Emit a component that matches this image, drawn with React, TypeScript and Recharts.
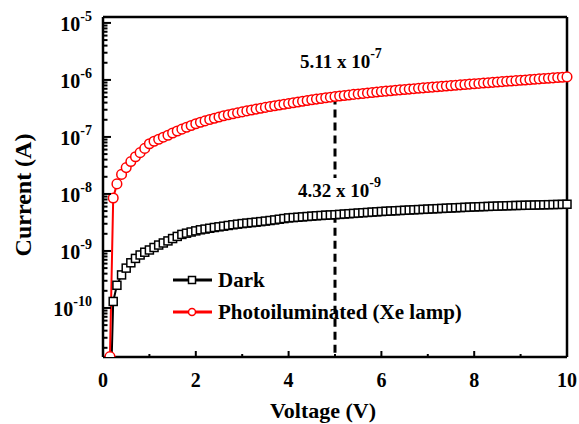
import React from "react";
import { LineChart, Line, XAxis, YAxis, ReferenceLine, Legend } from "recharts";

const voltage = [
  0.15, 0.22, 0.3, 0.4, 0.5, 0.6, 0.7, 0.8, 0.9, 1.0,
  1.1, 1.2, 1.3, 1.4, 1.5, 1.6, 1.7, 1.8, 1.9, 2.0,
  2.1, 2.2, 2.3, 2.4, 2.5, 2.6, 2.7, 2.8, 2.9, 3.0,
  3.1, 3.2, 3.3, 3.4, 3.5, 3.6, 3.7, 3.8, 3.9, 4.0,
  4.1, 4.2, 4.3, 4.4, 4.5, 4.6, 4.7, 4.8, 4.9, 5.0,
  5.1, 5.2, 5.3, 5.4, 5.5, 5.6, 5.7, 5.8, 5.9, 6.0,
  6.1, 6.2, 6.3, 6.4, 6.5, 6.6, 6.7, 6.8, 6.9, 7.0,
  7.1, 7.2, 7.3, 7.4, 7.5, 7.6, 7.7, 7.8, 7.9, 8.0,
  8.1, 8.2, 8.3, 8.4, 8.5, 8.6, 8.7, 8.8, 8.9, 9.0,
  9.1, 9.2, 9.3, 9.4, 9.5, 9.6, 9.7, 9.8, 9.9, 10.0,
];

// dark current (A)
const darkCurrent = [
  1e-12, 1.3e-10, 2.5e-10, 3.8e-10, 5.0e-10, 6.2e-10, 7.4e-10, 8.5e-10, 9.5e-10, 1.04e-9,
  1.15e-9, 1.27e-9, 1.38e-9, 1.5e-9, 1.65e-9, 1.8e-9, 1.95e-9, 2.05e-9, 2.15e-9, 2.25e-9,
  2.35e-9, 2.42e-9, 2.5e-9, 2.58e-9, 2.65e-9, 2.72e-9, 2.8e-9, 2.88e-9, 2.95e-9, 3.02e-9,
  3.08e-9, 3.14e-9, 3.2e-9, 3.27e-9, 3.34e-9, 3.42e-9, 3.5e-9, 3.6e-9, 3.7e-9, 3.8e-9,
  3.85e-9, 3.9e-9, 3.96e-9, 4.02e-9, 4.08e-9, 4.14e-9, 4.19e-9, 4.24e-9, 4.28e-9, 4.32e-9,
  4.38e-9, 4.44e-9, 4.5e-9, 4.56e-9, 4.62e-9, 4.68e-9, 4.74e-9, 4.8e-9, 4.86e-9, 4.92e-9,
  4.97e-9, 5.02e-9, 5.07e-9, 5.12e-9, 5.17e-9, 5.22e-9, 5.27e-9, 5.32e-9, 5.37e-9, 5.42e-9,
  5.47e-9, 5.52e-9, 5.57e-9, 5.62e-9, 5.67e-9, 5.72e-9, 5.77e-9, 5.82e-9, 5.87e-9, 5.92e-9,
  5.96e-9, 6.0e-9, 6.04e-9, 6.08e-9, 6.12e-9, 6.16e-9, 6.2e-9, 6.24e-9, 6.27e-9, 6.3e-9,
  6.33e-9, 6.36e-9, 6.39e-9, 6.42e-9, 6.45e-9, 6.48e-9, 6.51e-9, 6.54e-9, 6.57e-9, 6.6e-9,
];

// photo current under Xe lamp (A)
const photoCurrent = [
  1.4e-11, 8.5e-9, 1.5e-8, 2.2e-8, 2.9e-8, 3.7e-8, 4.5e-8, 5.3e-8, 6.3e-8, 7.6e-8,
  8.4e-8, 9.1e-8, 9.9e-8, 1.07e-7, 1.17e-7, 1.27e-7, 1.37e-7, 1.48e-7, 1.59e-7, 1.7e-7,
  1.81e-7, 1.91e-7, 2.02e-7, 2.13e-7, 2.24e-7, 2.35e-7, 2.45e-7, 2.55e-7, 2.65e-7, 2.75e-7,
  2.86e-7, 2.97e-7, 3.08e-7, 3.19e-7, 3.3e-7, 3.41e-7, 3.52e-7, 3.63e-7, 3.74e-7, 3.85e-7,
  3.98e-7, 4.1e-7, 4.23e-7, 4.35e-7, 4.48e-7, 4.61e-7, 4.73e-7, 4.86e-7, 4.98e-7, 5.11e-7,
  5.22e-7, 5.34e-7, 5.45e-7, 5.57e-7, 5.68e-7, 5.79e-7, 5.91e-7, 6.02e-7, 6.14e-7, 6.25e-7,
  6.36e-7, 6.47e-7, 6.58e-7, 6.69e-7, 6.8e-7, 6.91e-7, 7.02e-7, 7.13e-7, 7.24e-7, 7.35e-7,
  7.47e-7, 7.59e-7, 7.71e-7, 7.83e-7, 7.95e-7, 8.07e-7, 8.19e-7, 8.31e-7, 8.43e-7, 8.55e-7,
  8.68e-7, 8.81e-7, 8.94e-7, 9.07e-7, 9.2e-7, 9.33e-7, 9.46e-7, 9.59e-7, 9.72e-7, 9.85e-7,
  9.99e-7, 1.014e-6, 1.028e-6, 1.043e-6, 1.057e-6, 1.072e-6, 1.086e-6, 1.101e-6, 1.115e-6, 1.13e-6,
];

const xTicks = [0, 1, 2, 3, 4, 5, 6, 7, 8, 9, 10];
const yDecades = [1e-11, 1e-10, 1e-9, 1e-8, 1e-7, 1e-6];
const yMinorSteps = [1, 2, 3, 4, 5, 6, 7, 8, 9];

// marked point
const markVoltage = 5;
const markPhoto = 5.11e-7;
const markDark = 4.32e-9;
const markBreak = 1.9e-8;

const legendItems = [
  { label: "Dark", color: "#000000", shape: "square" },
  { label: "Photoiluminated (Xe lamp)", color: "#ff0000", shape: "circle" },
];

const X_MAX = 10;
const Y_MIN = 1.38e-11;
const Y_MAX = 1.27e-5;
const FONT = '"Liberation Serif", "Times New Roman", serif';
const PLOT_LEFT = 103;
const PLOT_BOTTOM = 357;

const data = voltage.map((v, i) => ({
  v,
  dark: darkCurrent[i],
  photo: photoCurrent[i],
}));

const yTicks = [...yDecades.flatMap((d) => yMinorSteps.map((m) => m * d)), 1e-5].filter(
  (t) => t >= Y_MIN && t <= Y_MAX
);

const splitExp = (val: number) => {
  const exp = Math.floor(Math.log10(val) + 1e-9);
  return { mant: (val / Math.pow(10, exp)).toFixed(2), exp };
};

const YTick = (props: any) => {
  const { y, payload } = props;
  const val = payload.value;
  const exp = Math.round(Math.log10(val));
  const major = Math.abs(val / Math.pow(10, exp) - 1) < 1e-6;
  return (
    <g>
      <line x1={PLOT_LEFT} x2={PLOT_LEFT + (major ? 8 : 4.5)} y1={y} y2={y} stroke="#000" strokeWidth={2} />
      {major && (
        <text x={PLOT_LEFT - 11} y={y + 8} textAnchor="end" fontFamily={FONT} fontWeight="bold" fontSize={20} fill="#000">
          10
          <tspan dy={-10} fontSize={14}>{`${exp}`}</tspan>
        </text>
      )}
    </g>
  );
};

const XTick = (props: any) => {
  const { x, payload } = props;
  const val = payload.value;
  const major = val % 2 === 0;
  return (
    <g>
      <line x1={x} x2={x} y1={PLOT_BOTTOM} y2={PLOT_BOTTOM - (major ? 6 : 3)} stroke="#000" strokeWidth={2} />
      {major && (
        <text x={x} y={PLOT_BOTTOM + 30} textAnchor="middle" fontFamily={FONT} fontWeight="bold" fontSize={20} fill="#000">
          {val}
        </text>
      )}
    </g>
  );
};

const SquareDot = (props: any) => {
  const { cx, cy, index } = props;
  if (cx == null || cy == null) return <g key={`sq-${index}`} />;
  return <rect key={`sq-${index}`} x={cx - 4} y={cy - 4} width={8} height={8} fill="#fff" stroke="#000" strokeWidth={1.5} />;
};

const CircleDot = (props: any) => {
  const { cx, cy, index } = props;
  if (cx == null || cy == null) return <g key={`ci-${index}`} />;
  return <circle key={`ci-${index}`} cx={cx} cy={cy} r={4.8} fill="#fff" stroke="#ff0000" strokeWidth={1.5} />;
};

const annotation = (val: number, dx: number, dy: number) => (p: any) => {
  const vb = p.viewBox || {};
  const { mant, exp } = splitExp(val);
  return (
    <text x={vb.x + dx} y={vb.y + dy} fontFamily={FONT} fontWeight="bold" fontSize={19} fill="#000">
      {`${mant} x 10`}
      <tspan dy={-10} fontSize={14}>{`${exp}`}</tspan>
    </text>
  );
};

const LegendContent = () => (
  <div style={{ fontFamily: FONT, fontWeight: "bold", fontSize: 21, color: "#000" }}>
    {legendItems.map((item) => (
      <div key={item.label} style={{ display: "flex", alignItems: "center", height: 32, whiteSpace: "nowrap" }}>
        <svg width={46} height={32}>
          <line x1={3} x2={42} y1={16} y2={16} stroke={item.color} strokeWidth={3} />
          {item.shape === "square" ? (
            <rect x={18.5} y={12.5} width={7} height={7} fill="#fff" stroke={item.color} strokeWidth={1.5} />
          ) : (
            <circle cx={22} cy={16} r={3.5} fill="#fff" stroke={item.color} strokeWidth={1.5} />
          )}
        </svg>
        <span style={{ marginLeft: 2, lineHeight: "32px" }}>{item.label}</span>
      </div>
    ))}
  </div>
);

export default function App() {
  return (
    <div style={{ position: "absolute", left: 0, top: 0, background: "#fff" }}>
      <LineChart width={579} height={424} data={data} margin={{ top: 17, right: 12, left: 8, bottom: 7 }}>
        <XAxis
          dataKey="v"
          type="number"
          domain={[0, X_MAX]}
          ticks={xTicks}
          interval={0}
          height={60}
          tickLine={false}
          axisLine={{ stroke: "#000", strokeWidth: 2.5 }}
          tick={<XTick />}
          label={{
            content: () => (
              <text x={323} y={418} textAnchor="middle" fontFamily={FONT} fontWeight="bold" fontSize={22} fill="#000">
                Voltage (V)
              </text>
            ),
          }}
        />
        <YAxis
          type="number"
          scale="log"
          domain={[Y_MIN, Y_MAX]}
          allowDataOverflow
          ticks={yTicks}
          interval={0}
          width={95}
          tickLine={false}
          axisLine={{ stroke: "#000", strokeWidth: 2.5 }}
          tick={<YTick />}
          label={{
            content: () => (
              <text
                x={31}
                y={195}
                transform="rotate(-90, 31, 195)"
                textAnchor="middle"
                fontFamily={FONT}
                fontWeight="bold"
                fontSize={24}
                fill="#000"
              >
                Current (A)
              </text>
            ),
          }}
        />
        <Legend
          layout="horizontal"
          verticalAlign="middle"
          align="center"
          content={<LegendContent />}
          wrapperStyle={{ left: 170, top: 264, width: 330, height: 64 }}
        />
        <ReferenceLine
          segment={[
            { x: markVoltage, y: markPhoto },
            { x: markVoltage, y: markBreak },
          ]}
          stroke="#000"
          strokeWidth={3}
          strokeDasharray="8 5"
          ifOverflow="visible"
          label={{ content: annotation(markPhoto, -35, -29) }}
        />
        <ReferenceLine
          segment={[
            { x: markVoltage, y: markDark },
            { x: markVoltage, y: Y_MIN },
          ]}
          stroke="#000"
          strokeWidth={3}
          strokeDasharray="8 5"
          ifOverflow="visible"
          label={{ content: annotation(markDark, -37, -18) }}
        />
        <Line
          dataKey="dark"
          stroke="#000"
          strokeWidth={2}
          dot={SquareDot}
          activeDot={false}
          isAnimationActive={false}
        />
        <Line
          dataKey="photo"
          stroke="#ff0000"
          strokeWidth={2}
          dot={CircleDot}
          activeDot={false}
          isAnimationActive={false}
        />
        {/* frame: top and right edges */}
        <ReferenceLine y={Y_MAX} stroke="#000" strokeWidth={2.5} ifOverflow="visible" />
        <ReferenceLine x={X_MAX} stroke="#000" strokeWidth={2.5} ifOverflow="visible" />
      </LineChart>
    </div>
  );
}
